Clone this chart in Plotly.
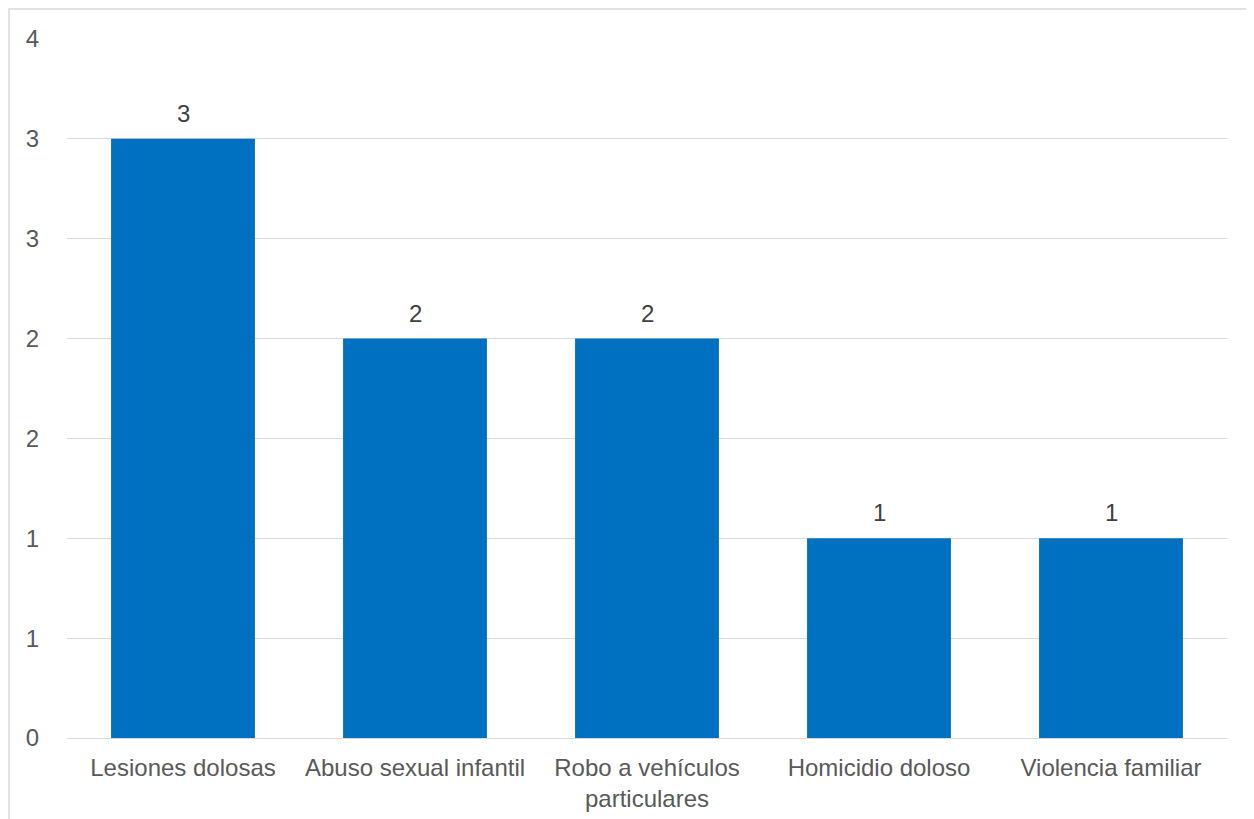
import plotly.graph_objects as go

categories = ["Lesiones dolosas", "Abuso sexual infantil", "Robo a vehículos<br>particulares",
              "Homicidio doloso", "Violencia familiar"]
values = [3, 2, 2, 1, 1]
tick_vals = [0, 0.5, 1, 1.5, 2, 2.5, 3, 3.5]
tick_text = ["0", "1", "1", "2", "2", "3", "3", "4"]

FONT = "Liberation Sans, Arial, sans-serif"
TXT = "#595959"

fig = go.Figure(go.Bar(
    x=categories, y=values, marker=dict(color="#0070C0", line=dict(width=0)),
    width=0.62, cliponaxis=False,
))

for c, v in zip(categories, values):
    fig.add_annotation(x=c, y=v, text=str(v), showarrow=False, yanchor="bottom",
                       yshift=10, font=dict(family=FONT, size=24, color="#404040"))

fig.update_layout(
    width=1246, height=819,
    margin=dict(l=59, r=27, t=31, b=89),
    plot_bgcolor="white", paper_bgcolor="white",
    font=dict(family=FONT, size=24, color=TXT),
    showlegend=False,
    xaxis=dict(showgrid=False, showline=True, linecolor="#d9d9d9", linewidth=1,
               ticks="outside", ticklen=8, tickcolor="rgba(0,0,0,0)",
               tickfont=dict(family=FONT, size=24, color=TXT)),
    yaxis=dict(range=[0, 3.5], tickvals=tick_vals, ticktext=tick_text,
               showgrid=True, gridcolor="#d9d9d9", gridwidth=1,
               zeroline=True, zerolinecolor="#d9d9d9", zerolinewidth=1,
               ticks="outside", ticklen=22, tickcolor="rgba(0,0,0,0)",
               tickfont=dict(family=FONT, size=24, color=TXT)),
    shapes=[dict(type="rect", xref="paper", yref="paper",
                 x0=(1 - 59) / 1160, x1=1.5, y0=-0.5, y1=1 + 30 / 699,
                 line=dict(color="#d9d9d9", width=1.5), fillcolor="rgba(0,0,0,0)", layer="below")],
)

fig.write_html("out.html")
